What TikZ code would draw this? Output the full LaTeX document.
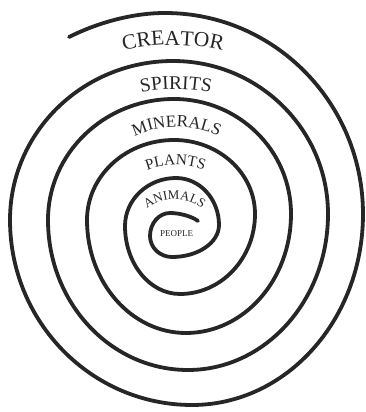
\documentclass[tikz,border=0pt]{standalone}
\usepackage{fontspec}
\setmainfont{Liberation Serif}
\usetikzlibrary{decorations.text}
\definecolor{ink}{HTML}{262626}
\newcommand\fcre{\fontsize{21.4pt}{24pt}\selectfont}
\newcommand\fspi{\fontsize{19.4pt}{22pt}\selectfont}
\newcommand\fmin{\fontsize{17pt}{20pt}\selectfont}
\newcommand\fpla{\fontsize{15.4pt}{18pt}\selectfont}
\newcommand\fani{\fontsize{13pt}{15pt}\selectfont}
\newcommand\fpeo{\fontsize{9pt}{11pt}\selectfont}
\tikzset{
  spiralline/.style={draw=ink, line width=3.8pt, line cap=round, line join=round},
  arctext/.style={decorate, decoration={text along path, text align=center, text color=ink, text={#1}}},
}
\begin{document}
\begin{tikzpicture}[x=1pt,y=1pt]
\useasboundingbox (0,0) rectangle (366,412);
\coordinate (S) at (198,191);
\coordinate (P1) at (170,199);
\coordinate (E) at (69,375);
\draw[spiralline] (S) .. controls (192,195.5) and (180,199) .. (P1)
  arc[start angle=90,end angle=180,x radius=20pt,y radius=23pt]
  arc[start angle=180,end angle=270,x radius=22pt,y radius=21pt]
  arc[start angle=270,end angle=360,x radius=47pt,y radius=32pt]
  arc[start angle=0,end angle=90,x radius=43pt,y radius=47pt]
  arc[start angle=90,end angle=180,x radius=51pt,y radius=48pt]
  arc[start angle=180,end angle=270,x radius=55pt,y radius=68pt]
  arc[start angle=270,end angle=360,x radius=75pt,y radius=80pt]
  arc[start angle=0,end angle=90,x radius=81pt,y radius=74pt]
  arc[start angle=90,end angle=180,x radius=87pt,y radius=80pt]
  arc[start angle=180,end angle=270,x radius=99pt,y radius=113pt]
  arc[start angle=270,end angle=360,x radius=105pt,y radius=119pt]
  arc[start angle=0,end angle=90,x radius=117pt,y radius=115pt]
  arc[start angle=90,end angle=180,x radius=126pt,y radius=121pt]
  arc[start angle=180,end angle=270,x radius=140pt,y radius=150pt]
  arc[start angle=270,end angle=360,x radius=140pt,y radius=156pt]
  arc[start angle=0,end angle=90,x radius=155pt,y radius=153pt]
  arc[start angle=90,end angle=180,x radius=163pt,y radius=159pt]
  arc[start angle=180,end angle=270,x radius=182pt,y radius=185pt]
  arc[start angle=270,end angle=360,x radius=171pt,y radius=191pt]
  arc[start angle=0,end angle=90,x radius=198pt,y radius=201pt]
  .. controls +(-35,0) and (95,388) .. (E);
\path[arctext={|\fcre|CREATOR}] ([shift={(120:210)}]173,157) arc[start angle=120,end angle=60,radius=210pt];
\path[arctext={|\fspi|SPIRITS}] ([shift={(125:170)}]176,153) arc[start angle=125,end angle=55,radius=170pt];
\path[arctext={|\fmin|MINERALS}] ([shift={(140:100)}]176.5,185) arc[start angle=140,end angle=40,radius=100pt];
\path[arctext={|\fpla|PLANTS}] ([shift={(145:80)}]175.5,167) arc[start angle=145,end angle=35,radius=80pt];
\path[arctext={|\fani|ANIMALS}] ([shift={(165:46)}]174.5,167) arc[start angle=165,end angle=15,radius=46pt];
\node[font=\fpeo, text=ink, inner sep=0pt] (people) at (176.5,178.5) {PEOPLE};
\end{tikzpicture}
\end{document}
